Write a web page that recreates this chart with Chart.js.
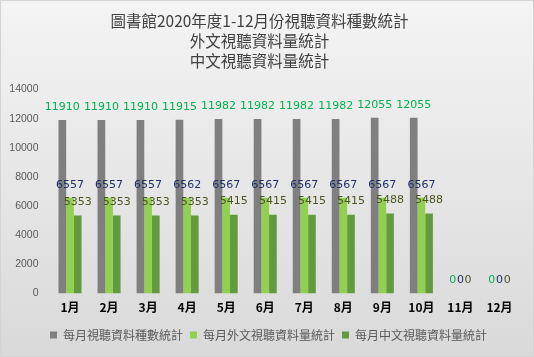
<!DOCTYPE html>
<html>
<head>
<meta charset="utf-8">
<script src="https://cdn.jsdelivr.net/npm/chart.js@4/dist/chart.umd.min.js"></script>
<style>
html,body{margin:0;padding:0;background:#fff;}
#wrap{width:534px;height:357px;}
</style>
</head>
<body>
<div id="wrap"><canvas id="c" width="534" height="357"></canvas></div>
<script>
const titleLines = ['圖書館2020年度1-12月份視聽資料種數統計', '外文視聽資料量統計', '中文視聽資料量統計'];
const months = ['1月','2月','3月','4月','5月','6月','7月','8月','9月','10月','11月','12月'];
const seriesNames = ['每月視聽資料種數統計', '每月外文視聽資料量統計', '每月中文視聽資料量統計'];
const totalCounts = [11910, 11910, 11910, 11915, 11982, 11982, 11982, 11982, 12055, 12055, 0, 0];
const foreignCounts = [6557, 6557, 6557, 6562, 6567, 6567, 6567, 6567, 6567, 6567, 0, 0];
const chineseCounts = [5353, 5353, 5353, 5353, 5415, 5415, 5415, 5415, 5488, 5488, 0, 0];
const yTicks = [0, 2000, 4000, 6000, 8000, 10000, 12000, 14000];

const barColors = ['#7f7f7f', '#92d050', '#629a3f'];
const labelColors = ['#00b050', '#1f2f6a', '#4b5522'];

const bgPlugin = {
  id: 'bg',
  beforeDraw(chart) {
    const ctx = chart.ctx, w = chart.width, h = chart.height;
    const g = ctx.createLinearGradient(0, 0, 0, h);
    g.addColorStop(0, '#f4f4f4');
    g.addColorStop(1, '#d9d9d9');
    ctx.save();
    ctx.fillStyle = g;
    ctx.fillRect(0, 0, w, h);
    ctx.strokeStyle = '#d4d4d4';
    ctx.lineWidth = 1;
    ctx.strokeRect(0.5, 0.5, w - 1, h - 1);
    ctx.restore();
  }
};

const legendShift = {
  id: 'legendShift',
  afterLayout(chart) {
    if (chart.legend) { chart.legend.left += 9; chart.legend.right += 9; }
  }
};

const valueLabels = {
  id: 'valueLabels',
  afterDatasetsDraw(chart) {
    const ctx = chart.ctx;
    ctx.save();
    ctx.font = '11px "DejaVu Sans", sans-serif';
    ctx.textAlign = 'center';
    ctx.textBaseline = 'middle';
    chart.data.datasets.forEach((ds, i) => {
      const meta = chart.getDatasetMeta(i);
      meta.data.forEach((el, j) => {
        ctx.fillStyle = labelColors[i];
        ctx.fillText(String(ds.data[j]), el.x, el.y - 13);
      });
    });
    ctx.restore();
  }
};

new Chart(document.getElementById('c'), {
  type: 'bar',
  data: {
    labels: months,
    datasets: [
      { label: seriesNames[0], data: totalCounts, backgroundColor: barColors[0] },
      { label: seriesNames[1], data: foreignCounts, backgroundColor: barColors[1] },
      { label: seriesNames[2], data: chineseCounts, backgroundColor: barColors[2] }
    ]
  },
  options: {
    responsive: false,
    animation: false,
    devicePixelRatio: 1,
    layout: { padding: { left: 0, right: 15, top: 0, bottom: 6 } },
    datasets: { bar: { categoryPercentage: 0.59, barPercentage: 1.0 } },
    plugins: {
      title: {
        display: true,
        text: titleLines,
        color: '#404040',
        font: { family: '"Noto Sans CJK TC", sans-serif', size: 15.5, weight: 'normal', lineHeight: 1.3 },
        padding: { top: 11, bottom: 18 }
      },
      legend: {
        position: 'bottom',
        labels: {
          boxWidth: 7, boxHeight: 7, padding: 7,
          color: '#595959',
          font: { family: '"Noto Sans CJK TC", sans-serif', size: 12 }
        }
      },
      tooltip: { enabled: false }
    },
    scales: {
      x: {
        grid: { display: false, drawTicks: false, tickLength: 0 },
        border: { display: false },
        ticks: { color: '#000000', padding: 7, font: { family: '"Noto Sans CJK TC", sans-serif', size: 12, weight: 'bold' } }
      },
      y: {
        min: 0, max: 14000,
        afterBuildTicks(scale) { scale.ticks = yTicks.map(v => ({ value: v })); },
        afterFit(scale) { scale.width = 50.5; },
        grid: { display: false, drawTicks: false, tickLength: 0 },
        border: { display: false },
        ticks: { color: '#595959', padding: 12, callback: v => String(v), font: { family: '"Liberation Sans", sans-serif', size: 10.5 } }
      }
    }
  },
  plugins: [bgPlugin, legendShift, valueLabels]
});
</script>
</body>
</html>
